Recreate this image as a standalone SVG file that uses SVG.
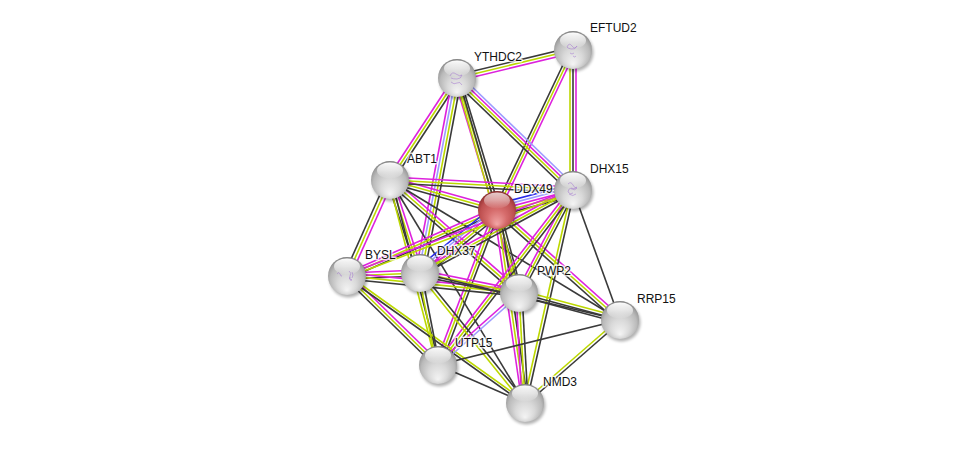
<svg xmlns="http://www.w3.org/2000/svg" xmlns:xlink="http://www.w3.org/1999/xlink" width="975" height="449" viewBox="0 0 975 449">
<style>
.ed use{fill:none;stroke-width:1.6}
.m{stroke:#DD22DD}
.y{stroke:#BCD800}
.k{stroke:#3A3A3A}
.l{stroke:#9C9CFF}
.b{stroke:#2B2BE8}
.lbl{font-family:"Liberation Sans",Arial,sans-serif;font-size:12px;fill:#111;stroke:#fff;stroke-width:3px;stroke-opacity:0.75;paint-order:stroke;stroke-linejoin:round}
.st{fill:none;stroke:#A67BD0;stroke-width:0.7;opacity:0.8}
</style>
<defs>
<radialGradient id="gg" cx="0.5" cy="0.55" r="0.55" fx="0.5" fy="0.88">
<stop offset="0" stop-color="#F4F4F4"/>
<stop offset="0.45" stop-color="#D9D9D9"/>
<stop offset="0.8" stop-color="#BABABA"/>
<stop offset="0.93" stop-color="#A0A0A0"/>
<stop offset="1" stop-color="#7E7E7E"/>
</radialGradient>
<radialGradient id="gr" cx="0.5" cy="0.55" r="0.55" fx="0.5" fy="0.88">
<stop offset="0" stop-color="#F2A6A6"/>
<stop offset="0.45" stop-color="#D66C6C"/>
<stop offset="0.8" stop-color="#BE5050"/>
<stop offset="0.93" stop-color="#A33C3C"/>
<stop offset="1" stop-color="#7E2828"/>
</radialGradient>
<linearGradient id="hl" x1="0" y1="0" x2="0" y2="1">
<stop offset="0" stop-color="#fff" stop-opacity="0.98"/>
<stop offset="0.5" stop-color="#fff" stop-opacity="0.6"/>
<stop offset="1" stop-color="#fff" stop-opacity="0.05"/>
</linearGradient>
<filter id="blur" x="-50%" y="-50%" width="200%" height="200%"><feGaussianBlur stdDeviation="1.6"/></filter>
<g id="sph">
<circle cx="1.5" cy="2.5" r="19" fill="#000" opacity="0.3" filter="url(#blur)"/>
<circle r="19" fill="url(#gg)"/>
<ellipse cx="0" cy="-9.5" rx="13" ry="8" fill="url(#hl)"/>
</g>
<g id="sphr">
<circle cx="1.5" cy="2.5" r="19" fill="#000" opacity="0.3" filter="url(#blur)"/>
<circle r="19" fill="url(#gr)"/>
<ellipse cx="0" cy="-9.5" rx="13" ry="8" fill="url(#hl)" opacity="0.75"/>
</g>
<line id="e1" x1="457" y1="78" x2="573" y2="50"/>
<line id="e2" x1="573" y1="50" x2="497" y2="210"/>
<line id="e3" x1="573" y1="50" x2="573" y2="190"/>
<line id="e4" x1="457" y1="78" x2="573" y2="190"/>
<line id="e5" x1="457" y1="78" x2="497" y2="210"/>
<line id="e6" x1="457" y1="78" x2="390" y2="180"/>
<line id="e7" x1="457" y1="78" x2="420" y2="273"/>
<line id="e8" x1="457" y1="78" x2="519" y2="293"/>
<line id="e9" x1="390" y1="180" x2="497" y2="210"/>
<line id="e10" x1="390" y1="180" x2="573" y2="190"/>
<line id="e11" x1="390" y1="180" x2="347" y2="276"/>
<line id="e12" x1="390" y1="180" x2="420" y2="273"/>
<line id="e13" x1="390" y1="180" x2="519" y2="293"/>
<line id="e14" x1="390" y1="180" x2="438" y2="365"/>
<line id="e15" x1="390" y1="180" x2="525" y2="403"/>
<line id="e16" x1="390" y1="180" x2="620" y2="320"/>
<line id="e17" x1="497" y1="210" x2="573" y2="190"/>
<line id="e18" x1="497" y1="210" x2="347" y2="276"/>
<line id="e19" x1="497" y1="210" x2="420" y2="273"/>
<line id="e20" x1="497" y1="210" x2="519" y2="293"/>
<line id="e21" x1="497" y1="210" x2="620" y2="320"/>
<line id="e22" x1="497" y1="210" x2="438" y2="365"/>
<line id="e23" x1="497" y1="210" x2="525" y2="403"/>
<line id="e24" x1="573" y1="190" x2="420" y2="273"/>
<line id="e25" x1="573" y1="190" x2="347" y2="276"/>
<line id="e26" x1="573" y1="190" x2="519" y2="293"/>
<line id="e27" x1="573" y1="190" x2="438" y2="365"/>
<line id="e28" x1="573" y1="190" x2="525" y2="403"/>
<line id="e29" x1="573" y1="190" x2="620" y2="320"/>
<line id="e30" x1="347" y1="276" x2="420" y2="273"/>
<line id="e31" x1="347" y1="276" x2="519" y2="293"/>
<line id="e32" x1="347" y1="276" x2="438" y2="365"/>
<line id="e33" x1="347" y1="276" x2="525" y2="403"/>
<line id="e34" x1="420" y1="273" x2="519" y2="293"/>
<line id="e35" x1="420" y1="273" x2="620" y2="320"/>
<line id="e36" x1="420" y1="273" x2="438" y2="365"/>
<line id="e37" x1="420" y1="273" x2="525" y2="403"/>
<line id="e38" x1="519" y1="293" x2="620" y2="320"/>
<line id="e39" x1="519" y1="293" x2="525" y2="403"/>
<line id="e40" x1="519" y1="293" x2="438" y2="365"/>
<line id="e41" x1="438" y1="365" x2="525" y2="403"/>
<line id="e42" x1="438" y1="365" x2="620" y2="320"/>
<line id="e43" x1="525" y1="403" x2="620" y2="320"/>
</defs>
<rect width="975" height="449" fill="#fff"/>
<g id="connectors" class="ed">
<use href="#e1" class="k" y="-3"/><use href="#e1" class="y" y="0"/><use href="#e1" class="m" y="3"/>
<use href="#e2" class="k" x="-3"/><use href="#e2" class="y" x="0"/><use href="#e2" class="m" x="3"/>
<use href="#e3" class="y" x="-3"/><use href="#e3" class="k" x="0"/><use href="#e3" class="m" x="3"/>
<use href="#e4" class="l" x="6"/><use href="#e4" class="m" x="2"/><use href="#e4" class="y" x="-2"/><use href="#e4" class="k" x="-6"/>
<use href="#e5" class="m" x="-3"/><use href="#e5" class="y" x="0"/><use href="#e5" class="k" x="3"/>
<use href="#e6" class="m" x="-3.5"/><use href="#e6" class="y" x="0"/><use href="#e6" class="k" x="3.5"/>
<use href="#e7" class="m" x="-4.5"/><use href="#e7" class="l" x="-1.5"/><use href="#e7" class="y" x="1.5"/><use href="#e7" class="k" x="4.5"/>
<use href="#e8" class="y" x="-1.5"/><use href="#e8" class="k" x="1.5"/>
<use href="#e9" class="m" y="-3"/><use href="#e9" class="y" y="0"/><use href="#e9" class="k" y="3"/>
<use href="#e10" class="m" y="-3"/><use href="#e10" class="y" y="0"/><use href="#e10" class="k" y="3"/>
<use href="#e11" class="k" x="-3.5"/><use href="#e11" class="y" x="0"/><use href="#e11" class="m" x="3.5"/>
<use href="#e12" class="k" x="-3"/><use href="#e12" class="y" x="0"/><use href="#e12" class="m" x="3"/>
<use href="#e13" class="m" y="-4"/><use href="#e13" class="y" y="0"/><use href="#e13" class="k" y="4"/>
<use href="#e14" class="y" x="-1.5"/><use href="#e14" class="k" x="1.5"/>
<use href="#e15" class="k"/>
<use href="#e16" class="k"/>
<use href="#e17" class="b" y="-6"/><use href="#e17" class="l" y="-3"/><use href="#e17" class="m" y="0"/><use href="#e17" class="y" y="3"/><use href="#e17" class="k" y="6"/>
<use href="#e18" class="m" y="-3"/><use href="#e18" class="y" y="0"/><use href="#e18" class="k" y="3"/>
<use href="#e19" class="b" y="-7"/><use href="#e19" class="l" y="-3.5"/><use href="#e19" class="m" y="0"/><use href="#e19" class="y" y="3.5"/><use href="#e19" class="k" y="7"/>
<use href="#e20" class="m" x="-3"/><use href="#e20" class="y" x="0"/><use href="#e20" class="k" x="3"/>
<use href="#e21" class="m" y="-4"/><use href="#e21" class="y" y="0"/><use href="#e21" class="k" y="4"/>
<use href="#e22" class="m" x="-3"/><use href="#e22" class="y" x="0"/><use href="#e22" class="k" x="3"/>
<use href="#e23" class="m" x="-3"/><use href="#e23" class="y" x="0"/><use href="#e23" class="k" x="3"/>
<use href="#e24" class="m" y="-3"/><use href="#e24" class="y" y="0"/><use href="#e24" class="k" y="3"/>
<use href="#e25" class="m" y="-1.5"/><use href="#e25" class="y" y="1.5"/>
<use href="#e26" class="m" x="-3"/><use href="#e26" class="y" x="0"/><use href="#e26" class="k" x="3"/>
<use href="#e27" class="m" x="-3.5"/><use href="#e27" class="y" x="0"/><use href="#e27" class="k" x="3.5"/>
<use href="#e28" class="y" x="-1.5"/><use href="#e28" class="k" x="1.5"/>
<use href="#e29" class="k"/>
<use href="#e30" class="m" y="-3"/><use href="#e30" class="y" y="0"/><use href="#e30" class="k" y="3"/>
<use href="#e31" class="m" y="-3"/><use href="#e31" class="y" y="0"/><use href="#e31" class="k" y="3"/>
<use href="#e32" class="m" y="-4"/><use href="#e32" class="y" y="0"/><use href="#e32" class="k" y="4"/>
<use href="#e33" class="y" y="-1.5"/><use href="#e33" class="k" y="1.5"/>
<use href="#e34" class="m" y="-3"/><use href="#e34" class="y" y="0"/><use href="#e34" class="k" y="3"/>
<use href="#e35" class="k"/>
<use href="#e36" class="y" x="-1.5"/><use href="#e36" class="k" x="1.5"/>
<use href="#e37" class="y" x="-2"/><use href="#e37" class="k" x="2"/>
<use href="#e38" class="y" y="-3"/><use href="#e38" class="k" y="0"/><use href="#e38" class="k" y="3"/>
<use href="#e39" class="m" x="-3"/><use href="#e39" class="y" x="0"/><use href="#e39" class="k" x="3"/>
<use href="#e40" class="m" y="-2"/><use href="#e40" class="l" y="2"/>
<use href="#e41" class="k"/>
<use href="#e42" class="k"/>
<use href="#e43" class="y" y="-2"/><use href="#e43" class="k" y="2"/>
</g>
<g id="EFTUD2" transform="translate(573,50)"><use href="#sph"/><path class="st" d="M-6,-3 q2,-5 5,-1 t5,0 q-2,4 -6,3 t-4,-2 M-3,3 q2,2 4,0 M0,6 q2,2 3,0"/><text class="lbl" x="17" y="-18">EFTUD2</text></g>
<g id="YTHDC2" transform="translate(457,78)"><use href="#sph"/><path class="st" d="M-7,-2 q2,-5 6,-2 t6,1 q-1,4 -5,4 t-6,-1 M-6,4 q3,3 6,1 t5,2"/><text class="lbl" x="17" y="-17">YTHDC2</text></g>
<g id="ABT1" transform="translate(390,180)"><use href="#sph"/><text class="lbl" x="17" y="-17">ABT1</text></g>
<g id="DHX15" transform="translate(573,190)"><use href="#sph"/><path class="st" d="M-5,-6 q3,-3 5,1 t4,3 q-2,3 -5,1 t-4,3 q2,3 5,1 M-2,-2 q3,2 6,-1 M-4,4 q4,3 7,0"/><text class="lbl" x="17" y="-17">DHX15</text></g>
<g id="DDX49" transform="translate(497,210)"><use href="#sphr"/><text class="lbl" x="17" y="-17">DDX49</text></g>
<g id="BYSL" transform="translate(347,276)"><use href="#sph"/><path class="st" d="M-10,-2 q2,-3 3,0 t2,2 M2,-5 q3,2 1,5 t2,4 q-3,1 -2,-3 M5,-4 q2,3 0,6"/><text class="lbl" x="18" y="-17">BYSL</text></g>
<g id="DHX37" transform="translate(420,273)"><use href="#sph"/><text class="lbl" x="17" y="-18">DHX37</text></g>
<g id="PWP2" transform="translate(519,293)"><use href="#sph"/><text class="lbl" x="18" y="-18">PWP2</text></g>
<g id="RRP15" transform="translate(620,320)"><use href="#sph"/><text class="lbl" x="17" y="-17">RRP15</text></g>
<g id="UTP15" transform="translate(438,365)"><use href="#sph"/><text class="lbl" x="17" y="-18">UTP15</text></g>
<g id="NMD3" transform="translate(525,403)"><use href="#sph"/><text class="lbl" x="18" y="-17">NMD3</text></g>
</svg>
